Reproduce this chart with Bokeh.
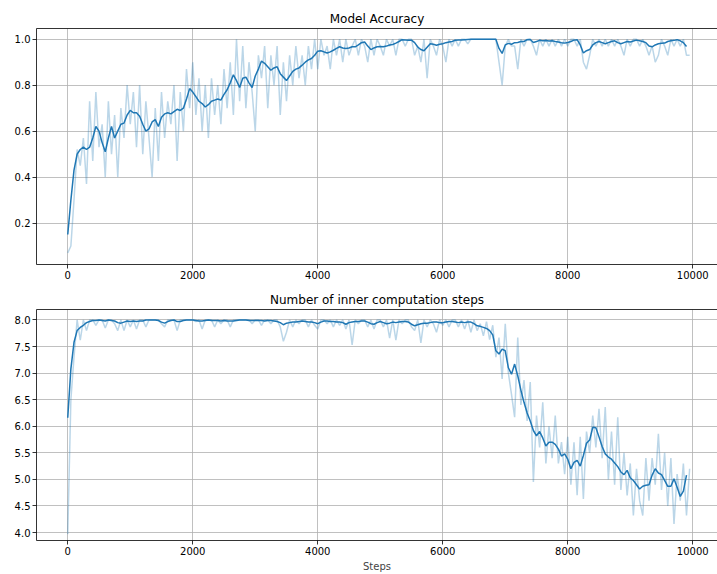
from bokeh.plotting import figure
from bokeh.layouts import column
from bokeh.models import Range1d, FixedTicker, LinearAxis, NumeralTickFormatter
from bokeh.embed import file_html
from bokeh.resources import INLINE

# ---------------- data ----------------
raw_steps = list(range(0, 10000, 50))
smooth_steps = list(range(0, 9950, 50))

acc_smooth = [
    0.15, 0.30, 0.43, 0.50, 0.52, 0.53, 0.52, 0.53, 0.57, 0.62,
    0.60, 0.55, 0.51, 0.57, 0.62, 0.57, 0.60, 0.63, 0.635, 0.67,
    0.69, 0.68, 0.68, 0.665, 0.63, 0.60, 0.61, 0.64, 0.65, 0.62,
    0.66, 0.675, 0.68, 0.675, 0.685, 0.695, 0.69, 0.70, 0.74, 0.785,
    0.77, 0.75, 0.73, 0.72, 0.705, 0.715, 0.73, 0.735, 0.74, 0.735,
    0.76, 0.78, 0.81, 0.845, 0.82, 0.79, 0.83, 0.835, 0.81, 0.79,
    0.84, 0.87, 0.905, 0.895, 0.88, 0.865, 0.875, 0.88, 0.85, 0.835,
    0.82, 0.84, 0.86, 0.87, 0.875, 0.887, 0.90, 0.91, 0.916, 0.93,
    0.948, 0.95, 0.945, 0.94, 0.945, 0.952, 0.96, 0.967, 0.962, 0.96,
    0.962, 0.967, 0.967, 0.975, 0.985, 0.988, 0.97, 0.955, 0.962, 0.967,
    0.968, 0.967, 0.97, 0.975, 0.977, 0.983, 0.99, 0.998, 0.997, 0.995,
    0.996, 0.985, 0.966, 0.955, 0.95, 0.965, 0.98, 0.978, 0.974, 0.978,
    0.98, 0.985, 0.988, 0.99, 0.996, 0.997, 0.997, 0.998, 0.999, 1.0,
    1.0, 1.0, 1.0, 1.0, 1.0, 1.0, 1.0, 1.0, 0.96, 0.938,
    0.975, 0.982, 0.978, 0.985, 0.986, 0.99, 0.99, 0.998, 0.999, 0.986,
    0.99, 0.995, 0.993, 0.994, 0.992, 0.993, 0.99, 0.988, 0.985, 0.983,
    0.986, 0.99, 0.996, 0.998, 0.975, 0.94, 0.95, 0.955, 0.975, 0.985,
    0.99, 0.985, 0.98, 0.985, 0.99, 0.993, 0.985, 0.98, 0.985, 0.99,
    0.988, 0.992, 0.996, 0.993, 0.99, 0.985, 0.97, 0.967, 0.975, 0.98,
    0.982, 0.983, 0.99, 0.993, 0.995, 0.998, 0.993, 0.985, 0.968,
]

acc_raw = [
    0.07, 0.10, 0.30, 0.52, 0.45, 0.57, 0.37, 0.73, 0.47, 0.77,
    0.53, 0.63, 0.40, 0.73, 0.50, 0.67, 0.40, 0.70, 0.57, 0.80,
    0.63, 0.77, 0.53, 0.80, 0.50, 0.73, 0.57, 0.40, 0.70, 0.47,
    0.77, 0.57, 0.73, 0.63, 0.80, 0.47, 0.77, 0.60, 0.87, 0.70,
    0.90, 0.67, 0.83, 0.60, 0.80, 0.57, 0.83, 0.67, 0.80, 0.63,
    0.87, 0.70, 0.90, 0.67, 1.00, 0.73, 0.97, 0.70, 0.90, 0.77,
    0.60, 0.93, 0.83, 0.97, 0.70, 0.93, 0.80, 0.97, 0.67, 0.90,
    0.73, 0.93, 0.80, 0.97, 0.83, 0.93, 0.80, 0.97, 0.87, 1.00,
    0.87, 1.00, 0.93, 0.97, 0.87, 1.00, 0.93, 1.00, 0.90, 1.00,
    0.93, 0.97, 1.00, 0.93, 1.00, 0.97, 0.90, 1.00, 0.93, 1.00,
    0.97, 0.93, 1.00, 0.97, 1.00, 0.93, 1.00, 1.00, 0.97, 1.00,
    1.00, 0.93, 0.97, 0.90, 1.00, 0.83, 1.00, 0.97, 0.93, 1.00,
    0.97, 0.90, 1.00, 0.97, 1.00, 0.97, 1.00, 1.00, 0.98, 1.00,
    1.00, 1.00, 1.00, 1.00, 1.00, 1.00, 1.00, 1.00, 0.90, 0.80,
    0.97, 1.00, 0.97, 0.97, 0.87, 1.00, 0.97, 1.00, 1.00, 0.97,
    0.93, 1.00, 0.97, 1.00, 0.97, 1.00, 0.97, 1.00, 0.97, 1.00,
    0.97, 1.00, 1.00, 0.97, 1.00, 0.90, 0.87, 0.93, 1.00, 0.97,
    1.00, 0.97, 1.00, 0.97, 1.00, 0.97, 1.00, 0.97, 0.93, 1.00,
    0.97, 1.00, 1.00, 0.97, 1.00, 0.97, 0.93, 0.97, 0.90, 0.93,
    1.00, 0.97, 0.93, 1.00, 0.97, 1.00, 0.97, 1.00, 0.93, 0.93,
]

inner_smooth = [
    6.16, 7.08, 7.58, 7.80, 7.86, 7.90, 7.95, 7.97, 7.99, 7.99,
    8.00, 7.99, 7.98, 8.00, 7.99, 7.98, 7.95, 7.94, 7.96, 7.98,
    7.97, 7.98, 7.97, 7.98, 7.98, 8.00, 8.00, 8.00, 8.00, 7.99,
    7.96, 7.94, 7.97, 7.99, 8.00, 7.97, 7.97, 7.99, 8.00, 8.00,
    8.00, 7.99, 7.98, 7.98, 7.99, 8.00, 7.99, 7.99, 7.99, 7.98,
    7.99, 7.98, 7.98, 7.98, 7.99, 8.00, 8.00, 8.00, 7.99, 7.99,
    7.99, 7.99, 7.99, 7.98, 7.99, 7.99, 7.98, 7.97, 7.95, 7.91,
    7.94, 7.95, 7.96, 7.96, 7.97, 7.98, 7.97, 7.96, 7.96, 7.95,
    7.93, 7.96, 7.98, 7.98, 7.97, 7.97, 7.96, 7.96, 7.95, 7.92,
    7.95, 7.96, 7.97, 7.97, 7.98, 7.98, 7.96, 7.93, 7.92, 7.95,
    7.97, 7.95, 7.93, 7.94, 7.96, 7.95, 7.96, 7.97, 7.97, 7.96,
    7.92, 7.89, 7.91, 7.93, 7.94, 7.94, 7.95, 7.96, 7.96, 7.95,
    7.95, 7.96, 7.97, 7.97, 7.96, 7.95, 7.96, 7.95, 7.96, 7.96,
    7.93, 7.89, 7.88, 7.86, 7.84, 7.80, 7.72, 7.42, 7.36, 7.45,
    7.42, 7.10, 6.98, 7.17, 6.95, 6.68, 6.45, 6.25, 6.10, 5.92,
    5.82, 5.90, 5.78, 5.63, 5.70, 5.70, 5.66, 5.57, 5.44, 5.48,
    5.38, 5.20, 5.32, 5.36, 5.25, 5.45, 5.68, 5.74, 5.98, 5.97,
    5.80, 5.62, 5.48, 5.42, 5.38, 5.31, 5.24, 5.14, 5.09, 5.17,
    5.03, 4.98, 4.90, 4.82, 4.87, 4.89, 4.90, 5.08, 5.20, 5.12,
    5.09, 4.98, 4.87, 4.87, 5.01, 4.85, 4.68, 4.78, 5.08,
]

inner_raw = [
    3.97, 6.50, 7.30, 8.00, 7.62, 8.00, 7.80, 8.00, 8.00, 7.90,
    8.00, 8.00, 7.85, 8.00, 8.00, 7.93, 7.80, 8.00, 7.80, 8.00,
    7.87, 8.00, 7.83, 8.00, 8.00, 7.87, 8.00, 8.00, 8.00, 8.00,
    7.93, 7.87, 8.00, 8.00, 8.00, 7.80, 8.00, 8.00, 8.00, 8.00,
    8.00, 7.97, 8.00, 7.83, 8.00, 8.00, 8.00, 7.87, 8.00, 7.93,
    8.00, 8.00, 7.87, 8.00, 8.00, 8.00, 8.00, 8.00, 8.00, 7.93,
    8.00, 8.00, 7.90, 8.00, 8.00, 7.93, 8.00, 8.00, 7.87, 7.60,
    7.77, 8.00, 7.87, 8.00, 7.93, 8.00, 8.00, 7.87, 8.00, 7.90,
    7.83, 8.00, 8.00, 7.93, 8.00, 7.87, 8.00, 7.90, 8.00, 7.83,
    8.00, 7.53, 8.00, 7.93, 8.00, 8.00, 7.87, 8.00, 7.83, 8.00,
    8.00, 7.87, 8.00, 7.66, 8.00, 7.62, 8.00, 7.93, 8.00, 8.00,
    7.87, 7.80, 8.00, 7.57, 8.00, 7.87, 8.00, 7.93, 7.77, 8.00,
    7.90, 8.00, 7.87, 8.00, 8.00, 7.87, 8.00, 7.83, 8.00, 7.77,
    8.00, 7.80, 7.93, 7.70, 7.97, 7.63, 7.90, 7.30, 7.67, 6.89,
    7.93, 7.00, 6.60, 6.17, 7.67, 6.40, 6.87, 6.10, 6.83, 4.95,
    6.20, 5.60, 6.45, 5.30, 6.00, 5.40, 6.20, 5.30, 5.70, 5.10,
    5.80, 4.90, 5.70, 4.70, 5.80, 4.63, 5.90, 5.50, 6.20, 5.60,
    6.33, 5.40, 6.36, 5.00, 5.90, 4.90, 6.17, 4.80, 5.50, 4.70,
    5.30, 4.32, 5.20, 4.60, 4.32, 5.40, 4.60, 5.40, 4.90, 5.86,
    4.80, 5.50, 4.50, 5.40, 4.16, 5.10, 4.60, 5.30, 4.32, 5.20,
]

x_ticks = [0, 2000, 4000, 6000, 8000, 10000]
acc_ticks = [0.2, 0.4, 0.6, 0.8, 1.0]
inner_ticks = [4.0, 4.5, 5.0, 5.5, 6.0, 6.5, 7.0, 7.5, 8.0]

TITLES = ["Model Accuracy", "Number of inner computation steps"]
XLABEL = "Steps"

BLUE = "#1f77b4"
FONT = "DejaVu Sans"


def make_fig(height, y0, y1, yticks, title, top, bottom, xlabel=None):
    p = figure(width=717, height=height, output_backend="svg",
               toolbar_location=None, title=title,
               x_range=Range1d(-500, 10396), y_range=Range1d(y0, y1),
               min_border_left=36, min_border_right=0,
               min_border_top=top, min_border_bottom=bottom)
    p.title.text_font = FONT
    p.title.text_font_size = "12px"
    p.title.text_font_style = "normal"
    p.title.align = "center"
    p.title.text_color = "black"
    p.title.standoff = 5
    p.title.offset = 0
    p.outline_line_color = None
    p.background_fill_color = "white"
    p.border_fill_color = "white"
    p.xaxis.ticker = FixedTicker(ticks=x_ticks)
    p.yaxis.ticker = FixedTicker(ticks=yticks)
    p.yaxis.formatter = NumeralTickFormatter(format="0.0")
    p.xaxis.formatter = NumeralTickFormatter(format="0")
    for ax in p.axis:
        ax.axis_line_color = "black"
        ax.axis_line_width = 0.8
        ax.major_tick_line_color = "black"
        ax.major_tick_line_width = 0.8
        ax.major_tick_out = 4
        ax.major_tick_in = 0
        ax.minor_tick_line_color = None
        ax.major_label_text_font = FONT
        ax.major_label_text_font_size = "10px"
        ax.major_label_text_color = "black"
        ax.major_label_standoff = 2
    if xlabel:
        p.xaxis.axis_label = xlabel
        p.xaxis.axis_label_text_font = FONT
        p.xaxis.axis_label_text_font_size = "10px"
        p.xaxis.axis_label_text_font_style = "normal"
        p.xaxis.axis_label_standoff = 3
    top_ax = LinearAxis(ticker=FixedTicker(ticks=[]), axis_line_color="black",
                        axis_line_width=0.8, major_tick_line_color=None,
                        minor_tick_line_color=None,
                        major_label_text_font_size="0px",
                        major_tick_out=0, major_label_standoff=0)
    p.add_layout(top_ax, "above")
    p.grid.grid_line_color = "#b0b0b0"
    p.grid.grid_line_width = 0.8
    p.xgrid.ticker = FixedTicker(ticks=x_ticks)
    p.ygrid.ticker = FixedTicker(ticks=yticks)
    return p


p1 = make_fig(286, 0.0196, 1.0466, acc_ticks, TITLES[0], 28, 22)
p1.line(raw_steps, acc_raw, color=BLUE, alpha=0.3, line_width=1.5)
p1.line(smooth_steps, acc_smooth, color=BLUE, line_width=1.5)

p2 = make_fig(288, 3.85, 8.197, inner_ticks, TITLES[1], 23, 30, xlabel=XLABEL)
p2.line(raw_steps, inner_raw, color=BLUE, alpha=0.3, line_width=1.5)
p2.line(smooth_steps, inner_smooth, color=BLUE, line_width=1.5)

layout = column(p1, p2, spacing=0)
open("out.html", "w").write(file_html(layout, INLINE))
